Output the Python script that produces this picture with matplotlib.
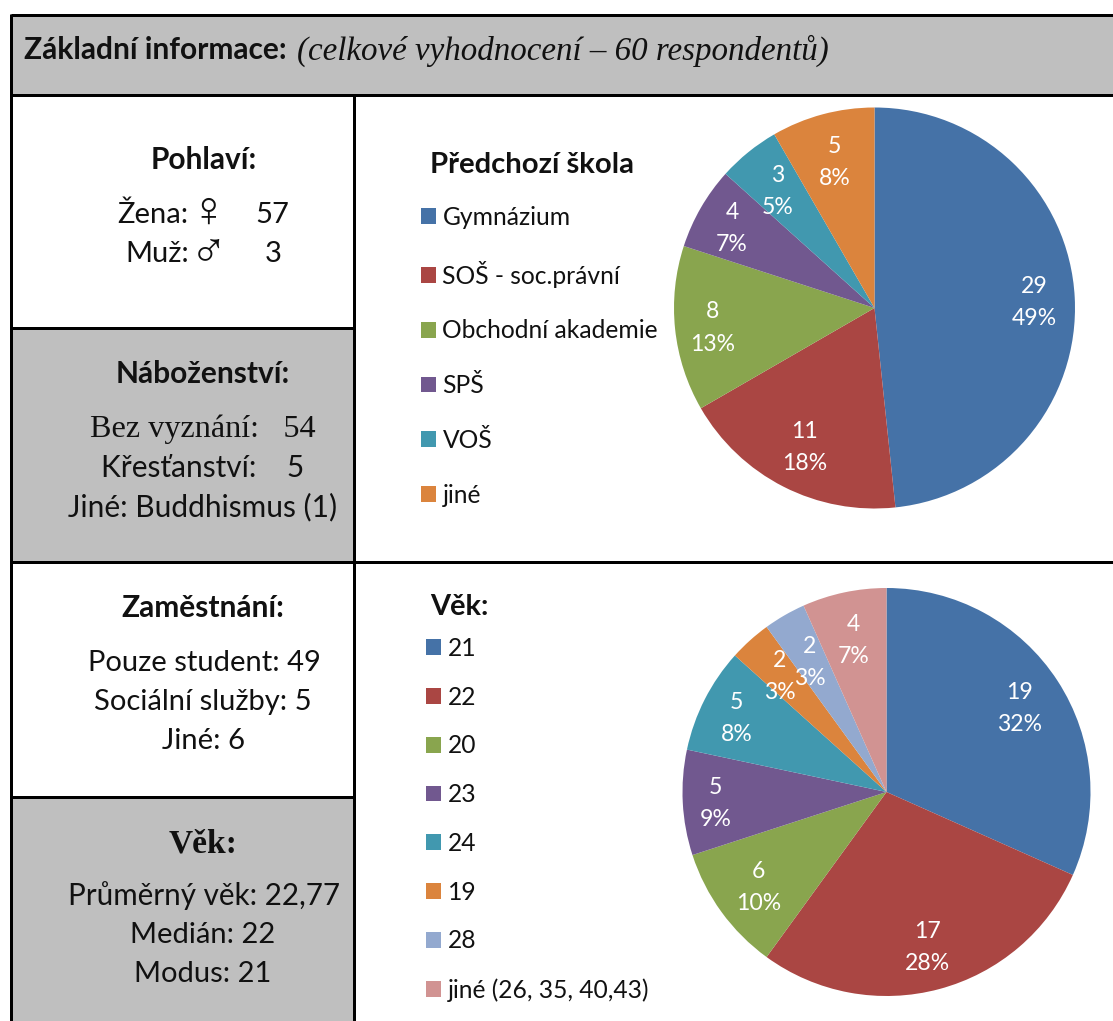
import matplotlib
matplotlib.use("Agg")
import matplotlib.pyplot as plt
import numpy as np
from matplotlib.patches import Rectangle

W, H = 1113, 1021
SANS = ["Lato", "DejaVu Sans"]
SERIF = "Liberation Serif"
GREY = "#BFBFBF"
COLORS = ["#4572A7", "#AA4643", "#89A54E", "#71588F", "#4198AF", "#DB843D", "#93A9CF", "#D19392"]

school_labels = ["Gymnázium", "SOŠ - soc.právní", "Obchodní akademie", "SPŠ", "VOŠ", "jiné"]
school_counts = [29, 11, 8, 4, 3, 5]
school_pct = ["49%", "18%", "13%", "7%", "5%", "8%"]
school_label_r = [0.80, 0.765, 0.81, 0.82, 0.765, 0.765]

age_labels = ["21", "22", "20", "23", "24", "19", "28", "jiné (26, 35, 40,43)"]
age_counts = [19, 17, 6, 5, 5, 2, 2, 4]
age_pct = ["32%", "28%", "10%", "9%", "8%", "3%", "3%", "7%"]
age_label_r = [0.775, 0.775, 0.775, 0.84, 0.825, 0.78, 0.75, 0.775]

fig = plt.figure(figsize=(W / 100, H / 100), dpi=100, facecolor="white")
bg = fig.add_axes([0, 0, 1, 1])
bg.set_xlim(0, W)
bg.set_ylim(H, 0)
bg.axis("off")

for (x0, y0, x1, y1) in [(11, 15, W, 95), (11, 328, 354, 562), (11, 797, 354, H)]:
    bg.add_patch(Rectangle((x0, y0), x1 - x0, y1 - y0, fc=GREY, ec="none"))

LW = 3 * 0.72
for xs, ys in [((11, W), (15, 15)), ((11, W), (95, 95)), ((11, 354), (328, 328)),
               ((11, W), (562, 562)), ((11, 354), (797, 797)),
               ((11, 11), (14, H)), ((354, 354), (95, H))]:
    bg.plot(xs, ys, color="black", lw=LW, solid_capstyle="butt")


def txt(x, y, s, size=21, **kw):
    kw.setdefault("family", SANS)
    kw.setdefault("ha", "center")
    kw.setdefault("va", "center")
    kw.setdefault("color", "#111111")
    return bg.text(x, y, s, fontsize=size, **kw)


BOLD = 21.5
# Header
txt(24, 50, "Základní informace:", size=BOLD, weight="bold", ha="left")
txt(297, 51, "(celkové vyhodnocení – 60 respondentů)", size=23.8, style="italic", family=SERIF, ha="left")

# Left panels
txt(204, 160, "Pohlaví:", size=BOLD, weight="bold")
txt(153, 215, "Žena:")
txt(208, 213, "♀", size=36, family=["Liberation Sans", "DejaVu Sans"])
txt(272, 215, "57")
txt(157, 254, "Muž:")
txt(209, 253, "♂", size=36, family=["Liberation Sans", "DejaVu Sans"])
txt(273, 254, "3")

txt(203, 374, "Náboženství:", size=BOLD, weight="bold")
txt(203, 429, "Bez vyznání:   54", family=SERIF, size=23.2)
txt(203, 468, "Křesťanství:    5", size=21.5)
txt(203, 507, "Jiné: Buddhismus (1)", size=21.5)

txt(203, 608, "Zaměstnání:", size=BOLD, weight="bold")
txt(204, 663, "Pouze student: 49")
txt(203, 702, "Sociální služby: 5")
txt(203, 741, "Jiné: 6")

txt(203, 844, "Věk:", size=24, weight="bold", family=SERIF)
txt(204, 896, "Průměrný věk: 22,77", size=21.3)
txt(203, 935, "Medián: 22")
txt(203, 974, "Modus: 21")


def pie(cx, cy, r, counts, pct, label_r):
    ax = fig.add_axes([(cx - r) / W, 1 - (cy + r) / H, 2 * r / W, 2 * r / H])
    wedges, _ = ax.pie(counts, colors=COLORS[:len(counts)], startangle=90, counterclock=False,
                       radius=1, wedgeprops=dict(linewidth=0))
    ax.set_xlim(-1, 1)
    ax.set_ylim(-1, 1)
    for w, n, p, lr in zip(wedges, counts, pct, label_r):
        a = np.deg2rad((w.theta1 + w.theta2) / 2)
        ax.text(lr * np.cos(a), lr * np.sin(a) - 3 / r, f"{n}\n{p}", ha="center", va="center",
                color="white", fontsize=16.6, family=SANS, linespacing=1.65, clip_on=False)
    return wedges


w1 = pie(874.5, 308, 200.5, school_counts, school_pct, school_label_r)
w2 = pie(886.5, 792, 204, age_counts, age_pct, age_label_r)

LEG_FS = 17.7
fpx = LEG_FS / 0.72
for wedges, labels, x, y, step in [(w1, school_labels, 420.5, 206, 56.3), (w2, age_labels, 425.5, 637, 50.3)]:
    leg = fig.legend(wedges, labels, loc="upper left", bbox_to_anchor=(x / W, 1 - y / H),
                     bbox_transform=fig.transFigure, frameon=False, borderpad=0, borderaxespad=0,
                     prop={"family": SANS, "size": LEG_FS}, handlelength=15 / fpx, handleheight=15 / fpx,
                     handletextpad=7 / fpx, labelspacing=(step - fpx * 1.0) / fpx, labelcolor="#111111")

txt(430, 165, "Předchozí škola", size=21.1, weight="bold", ha="left")
txt(430, 607, "Věk:", size=20.8, weight="bold", ha="left")

fig.savefig("out.png", dpi=100, facecolor="white")
